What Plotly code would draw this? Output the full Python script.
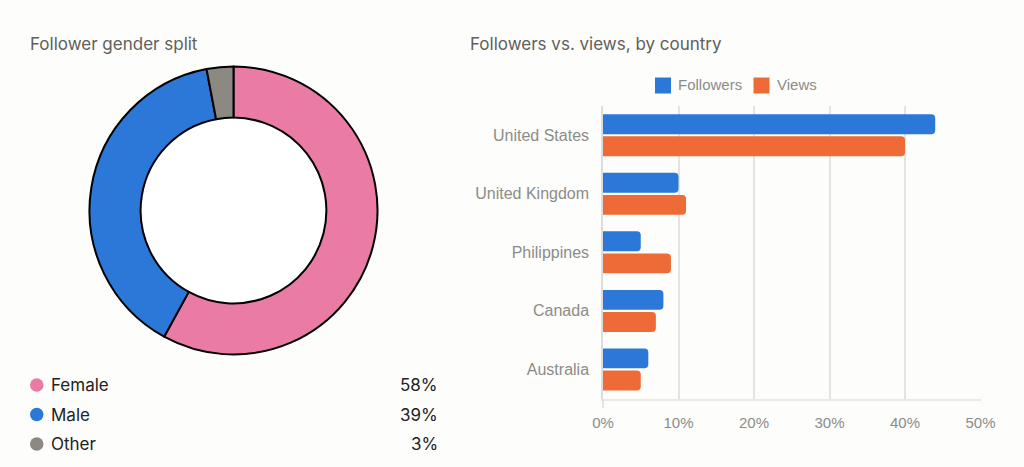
import plotly.graph_objects as go

# Data
gender_labels = ["Female", "Male", "Other"]
gender_values = [58, 39, 3]
countries = ["United States", "United Kingdom", "Philippines", "Canada", "Australia"]
followers = [44, 10, 5, 8, 6]
views = [40, 11, 9, 7, 5]
x_ticks = [0, 10, 20, 30, 40, 50]

W, H = 1024, 467
BG = "#FDFDFB"
PINK, BLUE, GRAY, ORANGE = "#E97BA5", "#2B78D8", "#8B8981", "#EE6A36"
UI = "Inter"
CHART = "Liberation Sans"
px = lambda v: v / W
py = lambda v: 1 - v / H

fig = go.Figure()
fig.add_trace(go.Pie(
    labels=gender_labels, values=gender_values, hole=0.645, sort=False,
    direction="clockwise", rotation=0, textinfo="none", showlegend=False,
    marker=dict(colors=[PINK, BLUE, GRAY], line=dict(color="#000000", width=2)),
    domain=dict(x=[px(89.5), px(377.5)], y=[py(354.5), py(66.5)]),
))
fig.add_trace(go.Bar(y=countries, x=followers, name="Followers", orientation="h",
                     marker=dict(color=BLUE, line=dict(width=0)), showlegend=False))
fig.add_trace(go.Bar(y=countries, x=views, name="Views", orientation="h",
                     marker=dict(color=ORANGE, line=dict(width=0)), showlegend=False))

shapes = [dict(type="circle", xref="paper", yref="paper", layer="below",
               x0=px(233.5 - 93), x1=px(233.5 + 93), y0=py(210.5 + 93), y1=py(210.5 - 93),
               fillcolor="#FFFFFF", line=dict(width=0))]
annotations = []


def text(x, y, s, size, color, anchor="left", family=UI):
    annotations.append(dict(xref="paper", yref="paper", x=px(x), y=py(y), text=s,
                            showarrow=False, xanchor=anchor, yanchor="middle",
                            font=dict(family=family, size=size, color=color),
                            borderpad=0, borderwidth=0))


text(30, 44, "Follower gender split", 17, "#5F5F5C")
text(470, 44, "Followers vs. views, by country", 17, "#5F5F5C")

rows = [385, 414.5, 444]
for name, val, col, y in zip(gender_labels, gender_values, [PINK, BLUE, GRAY], rows):
    shapes.append(dict(type="circle", xref="paper", yref="paper",
                       x0=px(30), x1=px(43.5), y0=py(y + 6.75), y1=py(y - 6.75),
                       fillcolor=col, line=dict(width=0)))
    text(51, y, name, 17, "#222222")
    text(438, y, f"{val}%", 17, "#222222", "right")

for name, col, x0, tx in [("Followers", BLUE, 655, 678), ("Views", ORANGE, 753.5, 776.5)]:
    shapes.append(dict(type="rect", xref="paper", yref="paper",
                       x0=px(x0), x1=px(x0 + 16), y0=py(93.5), y1=py(77.5),
                       fillcolor=col, line=dict(width=0)))
    text(tx, 84.5, name, 15, "#8C8C88", family=CHART)

# short stub of the zero line below the axis
shapes.append(dict(type="line", xref="paper", yref="paper",
                   x0=px(603), x1=px(603), y0=py(408), y1=py(398.7),
                   line=dict(color="#DDDDDD", width=1.5)))

fig.update_layout(
    width=W, height=H, margin=dict(l=0, r=0, t=0, b=0, autoexpand=False),
    paper_bgcolor=BG, plot_bgcolor="rgba(0,0,0,0)",
    barmode="group", bargap=0.245, bargroupgap=0.1, barcornerradius=4,
    shapes=shapes, annotations=annotations,
    font=dict(family=CHART, color="#8C8C88", size=15),
    xaxis=dict(domain=[px(603), px(980.5)], range=[0, 50], tickvals=x_ticks,
               ticktext=[f"{t}%" for t in x_ticks], showgrid=True, gridcolor="#E3E3E3",
               gridwidth=1.5, zeroline=False, showline=True, linecolor="#E9E9E9", linewidth=2,
               ticks="outside", ticklen=9, tickcolor="rgba(0,0,0,0)",
               tickfont=dict(family=CHART, size=15, color="#8C8C88")),
    yaxis=dict(domain=[py(398.7), py(106)], autorange="reversed", showgrid=False,
               zeroline=False, showline=True, linecolor="#DDDDDD", linewidth=1.5,
               ticks="outside", ticklen=9, tickcolor="rgba(0,0,0,0)",
               tickfont=dict(family=CHART, size=16, color="#8C8C88")),
)
fig.write_html("out.html", config=dict(displayModeBar=False),
               post_script="document.body.style.margin='0';document.body.style.background='" + BG + "';")
